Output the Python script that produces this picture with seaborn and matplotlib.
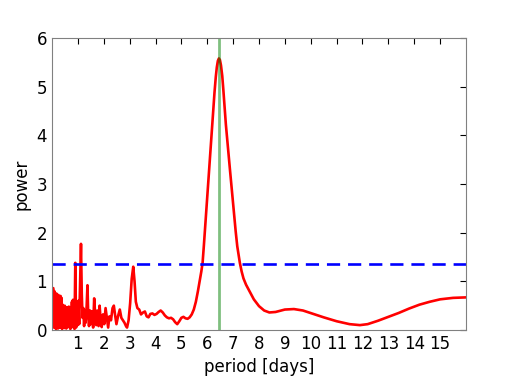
import numpy as np
import pandas as pd
import matplotlib
matplotlib.use("Agg")
import matplotlib.pyplot as plt
import seaborn as sns

# ── Data ─────────────────────────────────────────────────────────────────────
period = [
    0.05, 0.07, 0.09, 0.11, 0.13, 0.15, 0.17, 0.19, 0.21, 0.23,
    0.25, 0.27, 0.29, 0.31, 0.33, 0.35, 0.37, 0.39, 0.41, 0.43,
    0.45, 0.47, 0.49, 0.51, 0.53, 0.55, 0.57, 0.59, 0.61, 0.63,
    0.65, 0.67, 0.69, 0.71, 0.73, 0.75, 0.77, 0.79, 0.81, 0.83,
    0.85, 0.87, 0.90, 0.93, 0.96, 0.99, 1.02, 1.05, 1.09, 1.12,
    1.15, 1.18, 1.21, 1.24, 1.27, 1.30, 1.34, 1.37, 1.40, 1.43,
    1.47, 1.50, 1.55, 1.59, 1.63, 1.67, 1.71, 1.75, 1.80, 1.84,
    1.88, 1.92, 1.97, 2.02, 2.07, 2.12, 2.17, 2.22, 2.28, 2.34,
    2.39, 2.44, 2.49, 2.55, 2.62, 2.68, 2.74, 2.80, 2.86, 2.90,
    2.96, 3.02, 3.08, 3.14, 3.19, 3.24, 3.30, 3.37, 3.44, 3.52,
    3.59, 3.66, 3.73, 3.80, 3.88, 3.96, 4.04, 4.12, 4.20, 4.28,
    4.36, 4.44, 4.52, 4.60, 4.68, 4.76, 4.84, 4.92, 5.00, 5.08,
    5.16, 5.24, 5.32, 5.40, 5.48, 5.56, 5.64, 5.72, 5.77, 5.82,
    5.87, 5.94, 6.00, 6.08, 6.16, 6.23, 6.28, 6.33, 6.37, 6.41,
    6.45, 6.49, 6.53, 6.58, 6.62, 6.67, 6.72, 6.78, 6.88, 6.95,
    7.03, 7.10, 7.16, 7.26, 7.33, 7.40, 7.50, 7.61, 7.80, 8.00,
    8.20, 8.40, 8.64, 9.00, 9.35, 9.70, 10.10, 10.50, 11.00, 11.50,
    11.90, 12.20, 12.60, 13.00, 13.40, 13.80, 14.20, 14.60, 15.00, 15.50,
    16.00,
]
power = [
    0.86, 0.05, 0.80, 0.10, 0.62, 0.02, 0.75, 0.15, 0.55, 0.03,
    0.72, 0.20, 0.48, 0.05, 0.70, 0.12, 0.66, 0.02, 0.52, 0.18,
    0.45, 0.04, 0.50, 0.15, 0.40, 0.03, 0.47, 0.20, 0.38, 0.06,
    0.48, 0.14, 0.42, 0.02, 0.46, 0.22, 0.58, 0.10, 0.62, 0.05,
    0.50, 0.02, 1.38, 0.05, 0.45, 0.10, 0.60, 0.12, 1.10, 1.77,
    0.75, 0.25, 0.45, 0.08, 0.40, 0.15, 0.50, 0.92, 0.30, 0.08,
    0.40, 0.12, 0.38, 0.05, 0.65, 0.30, 0.10, 0.40, 0.08, 0.50,
    0.20, 0.06, 0.32, 0.12, 0.45, 0.25, 0.05, 0.28, 0.20, 0.45,
    0.50, 0.30, 0.12, 0.28, 0.42, 0.25, 0.20, 0.15, 0.08, 0.05,
    0.20, 0.55, 1.05, 1.30, 1.00, 0.58, 0.45, 0.42, 0.32, 0.36,
    0.38, 0.28, 0.26, 0.33, 0.34, 0.31, 0.33, 0.37, 0.40, 0.36,
    0.30, 0.26, 0.24, 0.25, 0.22, 0.16, 0.12, 0.18, 0.25, 0.27,
    0.24, 0.23, 0.26, 0.32, 0.42, 0.58, 0.80, 1.05, 1.20, 1.38,
    1.74, 2.28, 2.76, 3.38, 3.98, 4.52, 4.88, 5.20, 5.40, 5.53,
    5.58, 5.55, 5.44, 5.22, 4.95, 4.58, 4.22, 3.86, 3.28, 2.88,
    2.42, 2.02, 1.72, 1.38, 1.20, 1.06, 0.93, 0.82, 0.63, 0.49,
    0.40, 0.36, 0.37, 0.42, 0.43, 0.40, 0.33, 0.26, 0.18, 0.12,
    0.10, 0.12, 0.19, 0.27, 0.35, 0.44, 0.52, 0.58, 0.63, 0.66,
    0.67,
]
threshold = 1.36
best_period = 6.47
x_ticks = [1, 2, 3, 4, 5, 6, 7, 8, 9, 10, 11, 12, 13, 14, 15]
y_ticks = [0, 1, 2, 3, 4, 5, 6]

df = pd.DataFrame({"period": period, "power": power})

# ── Style ─────────────────────────────────────────────────────────────────────
sns.set_theme(style="white")
plt.rcParams.update({
    "font.family": ["DejaVu Sans"],
    "text.color": "black",
    "axes.labelcolor": "black",
    "xtick.direction": "in",
    "ytick.direction": "in",
    "xtick.top": True,
    "ytick.right": True,
    "xtick.major.size": 4.5,
    "ytick.major.size": 4.5,
    "xtick.color": "black",
    "ytick.color": "black",
    "axes.edgecolor": "#808080",
    "axes.linewidth": 0.8,
})

fig = plt.figure(figsize=(5.18, 3.89), dpi=100)
ax = fig.add_axes([0.1004, 0.1517, 0.7992, 0.7506])

sns.lineplot(data=df, x="period", y="power", ax=ax, color="red",
             lw=1.9, sort=False, estimator=None)
ax.axhline(threshold, color="blue", lw=1.9, ls=(0, (5, 3)))
ax.axvline(best_period, color="green", lw=2.0, alpha=0.5)

ax.set_xlim(0, 16)
ax.set_ylim(0, 6)
ax.set_xticks(x_ticks)
ax.set_yticks(y_ticks)
ax.tick_params(labelsize=12, width=0.8)
ax.set_xlabel("period [days]", fontsize=12)
ax.set_ylabel("power", fontsize=12)

fig.savefig("out.png", dpi=100)
